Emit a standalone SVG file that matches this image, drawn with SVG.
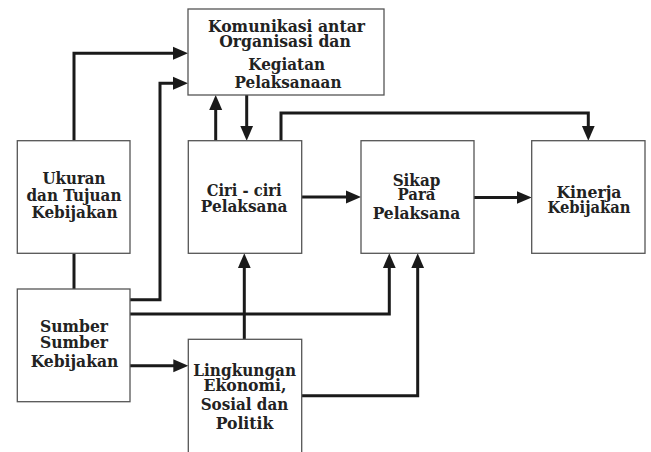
<svg xmlns="http://www.w3.org/2000/svg" width="651" height="452" viewBox="0 0 651 452">
<defs>
<style>
.box{fill:#fff;stroke:#555;stroke-width:1.3}
.t{font-family:"DejaVu Serif Condensed","DejaVu Serif","Liberation Serif",serif;font-weight:bold;font-size:16.5px;fill:#222;text-anchor:middle}
.c{fill:none;stroke:#1a1a1a;stroke-width:3;stroke-linejoin:miter}
</style>
<marker id="ah" markerUnits="userSpaceOnUse" markerWidth="16" markerHeight="14" refX="5" refY="6.5" orient="auto" viewBox="0 0 16 13">
<path d="M0,0 L15,6.5 L0,13 z" fill="#1a1a1a"/>
</marker>
</defs>
<rect width="651" height="452" fill="#fff"/>
<g id="connectors">
<path class="c" d="M74,141 V53.3 H178" marker-end="url(#ah)"/>
<path class="c" d="M130,299.7 H160 V83.3 H178" marker-end="url(#ah)"/>
<path class="c" d="M215.7,141 V105" marker-end="url(#ah)"/>
<path class="c" d="M246.7,95 V130.7" marker-end="url(#ah)"/>
<path class="c" d="M281,141 V113 H588.3 V130.7" marker-end="url(#ah)"/>
<path class="c" d="M301.7,197 H351" marker-end="url(#ah)"/>
<path class="c" d="M474,197.5 H521.7" marker-end="url(#ah)"/>
<path class="c" d="M244.3,339.3 V263.3" marker-end="url(#ah)"/>
<path class="c" d="M130,314 H389.3 V263.3" marker-end="url(#ah)"/>
<path class="c" d="M301.7,395.7 H417.7 V263.3" marker-end="url(#ah)"/>
<path class="c" d="M130,365.7 H178.3" marker-end="url(#ah)"/>
<path class="c" d="M74,253.3 V289"/>
</g>
<g id="komunikasi">
<rect class="box" x="188" y="9" width="196" height="86"/>
<text class="t" x="286.5" y="31.7" textLength="157" lengthAdjust="spacingAndGlyphs">Komunikasi antar</text>
<text class="t" x="285" y="46.7" textLength="131.7" lengthAdjust="spacingAndGlyphs">Organisasi dan</text>
<text class="t" x="286.7" y="70" textLength="76.7" lengthAdjust="spacingAndGlyphs">Kegiatan</text>
<text class="t" x="288" y="87.7" textLength="107" lengthAdjust="spacingAndGlyphs">Pelaksanaan</text>
</g>
<g id="ukuran">
<rect class="box" x="17.3" y="140.7" width="112.7" height="112.6"/>
<text class="t" x="74" y="184.3" textLength="63" lengthAdjust="spacingAndGlyphs">Ukuran</text>
<text class="t" x="74" y="200.7" textLength="95" lengthAdjust="spacingAndGlyphs">dan Tujuan</text>
<text class="t" x="74.5" y="218.3" textLength="86" lengthAdjust="spacingAndGlyphs">Kebijakan</text>
</g>
<g id="ciri">
<rect class="box" x="188.3" y="140.7" width="113.4" height="112.6"/>
<text class="t" x="244.2" y="195.7" textLength="75" lengthAdjust="spacingAndGlyphs">Ciri - ciri</text>
<text class="t" x="244.2" y="211.7" textLength="86.7" lengthAdjust="spacingAndGlyphs">Pelaksana</text>
</g>
<g id="sikap">
<rect class="box" x="361" y="140.7" width="113" height="112.6"/>
<text class="t" x="416.5" y="185.5" textLength="47.7" lengthAdjust="spacingAndGlyphs">Sikap</text>
<text class="t" x="416.5" y="200" textLength="38" lengthAdjust="spacingAndGlyphs">Para</text>
<text class="t" x="416.5" y="219" textLength="87.7" lengthAdjust="spacingAndGlyphs">Pelaksana</text>
</g>
<g id="kinerja">
<rect class="box" x="531.7" y="140.7" width="113.3" height="112.6"/>
<text class="t" x="589" y="198" textLength="65" lengthAdjust="spacingAndGlyphs">Kinerja</text>
<text class="t" x="589" y="213" textLength="83" lengthAdjust="spacingAndGlyphs">Kebijakan</text>
</g>
<g id="sumber">
<rect class="box" x="17.3" y="289" width="112.7" height="112.7"/>
<text class="t" x="74" y="331.7" textLength="68" lengthAdjust="spacingAndGlyphs">Sumber</text>
<text class="t" x="74" y="347.7" textLength="68" lengthAdjust="spacingAndGlyphs">Sumber</text>
<text class="t" x="74.5" y="366.7" textLength="87.7" lengthAdjust="spacingAndGlyphs">Kebijakan</text>
</g>
<g id="lingkungan">
<rect class="box" x="188.3" y="339.3" width="113.4" height="120"/>
<text class="t" x="244.7" y="375.7" textLength="102.7" lengthAdjust="spacingAndGlyphs">Lingkungan</text>
<text class="t" x="245" y="391" textLength="83" lengthAdjust="spacingAndGlyphs">Ekonomi,</text>
<text class="t" x="244.5" y="410" textLength="87.7" lengthAdjust="spacingAndGlyphs">Sosial dan</text>
<text class="t" x="244.5" y="429" textLength="57.7" lengthAdjust="spacingAndGlyphs">Politik</text>
</g>
</svg>
